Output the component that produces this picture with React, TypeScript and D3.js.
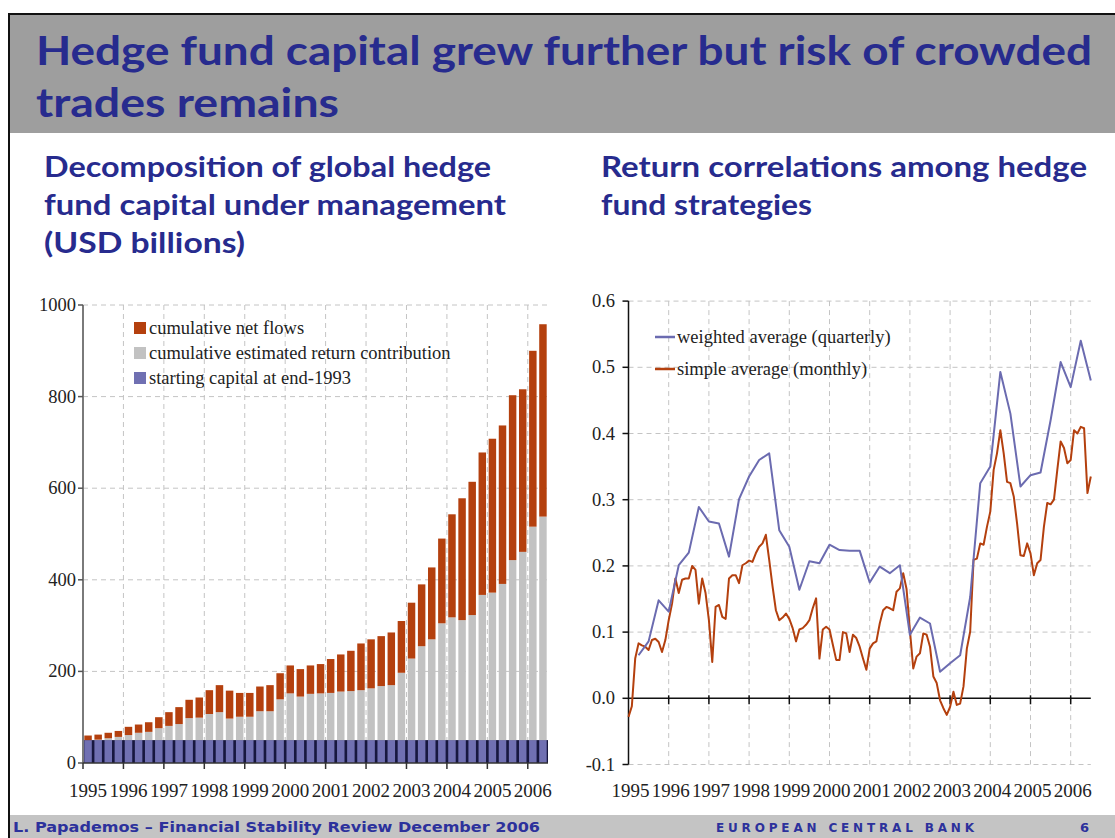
import * as d3 from "d3";

// ---- left chart: quarterly bars, 1995Q1 .. 2006Q2 (USD billions)
const years = [1995, 1996, 1997, 1998, 1999, 2000, 2001, 2002, 2003, 2004, 2005, 2006];
const quarters = years.flatMap((y) => ["Q1", "Q2", "Q3", "Q4"].map((q) => `${y}${q}`)).slice(0, 46);

const startingCapital = 50;
const returnContribution = [
  0, 1, 4, 7, 11, 16, 18, 26, 31, 35, 48, 49, 57, 61, 47, 51, 51, 63, 63, 89, 102, 95, 101, 102,
  103, 106, 107, 109, 113, 118, 120, 147, 178, 205, 220, 255, 268, 262, 273, 317, 322, 341, 393,
  411, 466, 488,
];
const netFlows = [
  10, 11, 12, 13, 18, 18, 21, 24, 30, 37, 40, 44, 52, 59, 61, 52, 52, 54, 57, 57, 61, 60, 62, 64,
  74, 81, 88, 102, 107, 109, 115, 113, 122, 135, 157, 185, 225, 266, 291, 311, 336, 346, 360, 355,
  384, 420,
];
const leftTicks = [0, 200, 400, 600, 800, 1000];

// ---- right chart: correlations
// weighted average, quarterly from 1995Q2
const weightedQuarterly = [
  0.065, 0.086, 0.148, 0.131, 0.201, 0.22, 0.289, 0.267, 0.264, 0.214, 0.301, 0.335, 0.36, 0.37,
  0.254, 0.229, 0.164, 0.207, 0.204, 0.232, 0.224, 0.223, 0.223, 0.175, 0.199, 0.189, 0.201, 0.096,
  0.122, 0.113, 0.04, 0.053, 0.065, 0.153, 0.325, 0.35, 0.493, 0.43, 0.32, 0.337, 0.341, 0.42,
  0.508, 0.47, 0.54, 0.48,
];
// simple average, monthly from Jan 1995
const simpleMonthly = [
  -0.028, -0.012, 0.06, 0.083, 0.08, 0.078, 0.073, 0.088, 0.09, 0.085, 0.07, 0.088,
  0.118, 0.143, 0.181, 0.159, 0.179, 0.181, 0.181, 0.2, 0.194, 0.143, 0.181, 0.159,
  0.118, 0.055, 0.138, 0.141, 0.123, 0.12, 0.181, 0.186, 0.186, 0.174, 0.201, 0.204,
  0.208, 0.206, 0.219, 0.229, 0.234, 0.247, 0.209, 0.169, 0.133, 0.118, 0.122, 0.128,
  0.12, 0.106, 0.086, 0.104, 0.106, 0.111, 0.118, 0.136, 0.151, 0.06, 0.104, 0.108,
  0.104, 0.081, 0.058, 0.058, 0.1, 0.098, 0.07, 0.096, 0.091, 0.078, 0.06, 0.043,
  0.075, 0.083, 0.086, 0.113, 0.133, 0.138, 0.136, 0.133, 0.161, 0.166, 0.189, 0.165,
  0.103, 0.045, 0.063, 0.068, 0.098, 0.096, 0.078, 0.033, 0.023, -0.003, -0.015, -0.025,
  -0.013, 0.01, -0.01, -0.008, 0.018, 0.075, 0.101, 0.209, 0.211, 0.234, 0.232, 0.259,
  0.282, 0.345, 0.37, 0.405, 0.37, 0.327, 0.325, 0.305, 0.264, 0.216, 0.215, 0.234,
  0.219, 0.186, 0.204, 0.209, 0.259, 0.295, 0.293, 0.3, 0.345, 0.388, 0.378, 0.355,
  0.36, 0.405, 0.4, 0.41, 0.408, 0.31, 0.335,
];
const rightTicks = [-0.1, 0.0, 0.1, 0.2, 0.3, 0.4, 0.5, 0.6];

const BLUE_TXT = "#272b8e";
const RED = "#b4400e";
const GREY_BAR = "#c2c2c2";
const START_BLUE = "#7070b2";
const LINE_BLUE = "#6b6bb0";
const GRID = "#c4c4c4";
const SERIF = "'Liberation Serif', 'Times New Roman', serif";
const SANS = "Lato, 'Open Sans', sans-serif";

export default function App() {
  const W = 1115;
  const H = 838;

  // left scales
  const xB = d3.scaleBand<string>().domain(quarters).range([83, 548]).paddingInner(0.26).paddingOuter(0.13);
  const yL = d3.scaleLinear().domain([0, 1000]).range([763, 305]);
  const step = xB.step();
  const yearTickX = (y: number) => (xB(`${y}Q1`) ?? 0) - (step * 0.26) / 2;

  // right scales
  const xR = d3.scaleLinear().domain([1995, 2006.5]).range([628.5, 1090.8]);
  const yR = d3.scaleLinear().domain([-0.1, 0.6]).range([764.5, 301.1]);

  const weighted = weightedQuarterly.map((v, i) => ({ t: 1995.25 + i * 0.25, v }));
  const simple = simpleMonthly.map((v, i) => ({ t: 1995 + i / 12, v }));
  const line = d3
    .line<{ t: number; v: number }>()
    .x((d) => xR(d.t))
    .y((d) => yR(d.v));

  const [lx0, lx1] = xB.range();
  const [rx0, rx1] = xR.range();

  return (
    <svg
      width={W}
      height={H}
      viewBox={`0 0 ${W} ${H}`}
      style={{ position: "absolute", left: 0, top: 0, background: "#fff" }}
    >
      {/* slide frame */}
      <rect x={9} y={15} width={W - 9} height={118} fill="#9e9e9e" />
      <line x1={8} x2={W} y1={14} y2={14} stroke="#111" strokeWidth={2} />
      <line x1={9} x2={9} y1={13} y2={H} stroke="#111" strokeWidth={2} />
      <text x={36} y={65} fontFamily={SANS} fontWeight={700} fontSize={40} fill={BLUE_TXT} textLength={1056} lengthAdjust="spacingAndGlyphs">
        Hedge fund capital grew further but risk of crowded
      </text>
      <text x={36} y={117} fontFamily={SANS} fontWeight={700} fontSize={40} fill={BLUE_TXT} textLength={303} lengthAdjust="spacingAndGlyphs">
        trades remains
      </text>

      {/* subtitles */}
      <g fontFamily={SANS} fontWeight={700} fontSize={28} fill={BLUE_TXT}>
        <text x={44} y={177} textLength={447} lengthAdjust="spacingAndGlyphs">Decomposition of global hedge</text>
        <text x={44} y={215} textLength={462} lengthAdjust="spacingAndGlyphs">fund capital under management</text>
        <text x={44} y={253} textLength={201} lengthAdjust="spacingAndGlyphs">(USD billions)</text>
        <text x={601} y={177} textLength={486} lengthAdjust="spacingAndGlyphs">Return correlations among hedge</text>
        <text x={601} y={215} textLength={211} lengthAdjust="spacingAndGlyphs">fund strategies</text>
      </g>

      {/* ---------- left chart ---------- */}
      <g>
        {leftTicks.slice(1).map((t) => (
          <line key={t} x1={lx0} x2={lx1} y1={yL(t)} y2={yL(t)} stroke={GRID} strokeDasharray="5,4" />
        ))}
        {years.slice(1).map((y) => (
          <line key={y} x1={yearTickX(y)} x2={yearTickX(y)} y1={yL(1000)} y2={yL(0)} stroke={GRID} strokeDasharray="5,4" />
        ))}
        {/* dark separators behind starting-capital band */}
        <rect x={lx0} y={yL(startingCapital)} width={lx1 - lx0} height={yL(0) - yL(startingCapital)} fill="#17173f" />
        {quarters.map((q, i) => {
          const x = xB(q) ?? 0;
          const w = xB.bandwidth();
          const r0 = startingCapital;
          const r1 = r0 + returnContribution[i];
          const f1 = r1 + netFlows[i];
          return (
            <g key={q}>
              <rect x={x} y={yL(r0)} width={w} height={yL(0) - yL(r0)} fill={START_BLUE} />
              <rect x={x} y={yL(r1)} width={w} height={yL(r0) - yL(r1)} fill={GREY_BAR} />
              <rect x={x} y={yL(f1)} width={w} height={yL(r1) - yL(f1)} fill={RED} />
            </g>
          );
        })}
        <line x1={lx0} x2={lx0} y1={yL(1000)} y2={yL(0)} stroke="#7a7a7a" strokeWidth={2} />
        <line x1={lx0} x2={lx1} y1={yL(0)} y2={yL(0)} stroke="#333" strokeWidth={1.5} />
        {leftTicks.map((t) => (
          <g key={t}>
            <line x1={lx0 - 5} x2={lx0} y1={yL(t)} y2={yL(t)} stroke="#555" strokeWidth={1.5} />
            <text x={76} y={yL(t) + 6} textAnchor="end" fontFamily={SERIF} fontSize={18.5} fill="#222">
              {t}
            </text>
          </g>
        ))}
        {years.map((y) => (
          <g key={y}>
            <line x1={yearTickX(y)} x2={yearTickX(y)} y1={yL(0)} y2={yL(0) + 6} stroke="#333" strokeWidth={1.5} />
            <text
              x={(xB(`${y}Q1`) ?? 0) + xB.bandwidth() / 2}
              y={797}
              textAnchor="middle"
              fontFamily={SERIF}
              fontSize={19}
              fill="#222"
            >
              {y}
            </text>
          </g>
        ))}
        {/* legend */}
        {[
          { label: "cumulative net flows", color: RED },
          { label: "cumulative estimated return contribution", color: GREY_BAR },
          { label: "starting capital at end-1993", color: START_BLUE },
        ].map((d, i) => (
          <g key={d.label} transform={`translate(134,${328 + i * 25})`}>
            <rect x={0} y={-6} width={12} height={12} fill={d.color} />
            <text x={15} y={6} fontFamily={SERIF} fontSize={18.5} fill="#222">
              {d.label}
            </text>
          </g>
        ))}
      </g>

      {/* ---------- right chart ---------- */}
      <g>
        {rightTicks
          .filter((t) => Math.abs(t) > 1e-9)
          .map((t) => (
            <line key={t} x1={rx0} x2={rx1} y1={yR(t)} y2={yR(t)} stroke={GRID} strokeDasharray="5,4" />
          ))}
        {years.slice(1).map((y) => (
          <line key={y} x1={xR(y)} x2={xR(y)} y1={yR(0.6)} y2={yR(-0.1)} stroke={GRID} strokeDasharray="5,4" />
        ))}
        <line x1={rx0} x2={rx1} y1={yR(0)} y2={yR(0)} stroke="#111" strokeWidth={1.5} />
        <line x1={rx0} x2={rx0} y1={yR(0.6)} y2={yR(-0.1)} stroke="#111" strokeWidth={1.5} />
        {years.slice(1).map((y) => (
          <line key={y} x1={xR(y)} x2={xR(y)} y1={yR(0) - 3} y2={yR(0) + 6} stroke="#111" strokeWidth={1.5} />
        ))}
        {rightTicks.map((t) => (
          <g key={t}>
            <line x1={rx0 - 6} x2={rx0} y1={yR(t)} y2={yR(t)} stroke="#111" strokeWidth={1.5} />
            <text x={615} y={yR(t) + 6} textAnchor="end" fontFamily={SERIF} fontSize={18.5} fill="#222">
              {t.toFixed(1)}
            </text>
          </g>
        ))}
        {years.map((y) => (
          <text
            key={y}
            x={xR(y) + 2}
            y={797}
            textAnchor="middle"
            fontFamily={SERIF}
            fontSize={19}
            fill="#222"
          >
            {y}
          </text>
        ))}
        <path d={line(simple) ?? ""} fill="none" stroke={RED} strokeWidth={2} strokeLinejoin="round" />
        <path d={line(weighted) ?? ""} fill="none" stroke={LINE_BLUE} strokeWidth={2} strokeLinejoin="round" />
        {[
          { label: "weighted average (quarterly)", color: LINE_BLUE },
          { label: "simple average (monthly)", color: RED },
        ].map((d, i) => (
          <g key={d.label} transform={`translate(655,${337 + i * 32})`}>
            <line x1={0} x2={20} y1={0} y2={0} stroke={d.color} strokeWidth={2.5} />
            <text x={22} y={6} fontFamily={SERIF} fontSize={18.5} fill="#222">
              {d.label}
            </text>
          </g>
        ))}
      </g>

      {/* footer */}
      <rect x={10} y={815} width={W - 10} height={H - 815} fill="#c4c4c4" />
      <text x={13} y={832} fontFamily="'DejaVu Sans', sans-serif" fontWeight={700} fontSize={14} fill="#2c319c" textLength={527} lengthAdjust="spacingAndGlyphs">
        L. Papademos – Financial Stability Review December 2006
      </text>
      <text x={716} y={832} fontFamily="'DejaVu Sans', sans-serif" fontWeight={700} fontSize={12} fill="#2c319c" textLength={258} lengthAdjust="spacing">
        EUROPEAN CENTRAL BANK
      </text>
      <text x={1080} y={832} fontFamily="'DejaVu Sans', sans-serif" fontWeight={700} fontSize={13} fill="#2c319c">
        6
      </text>
    </svg>
  );
}
